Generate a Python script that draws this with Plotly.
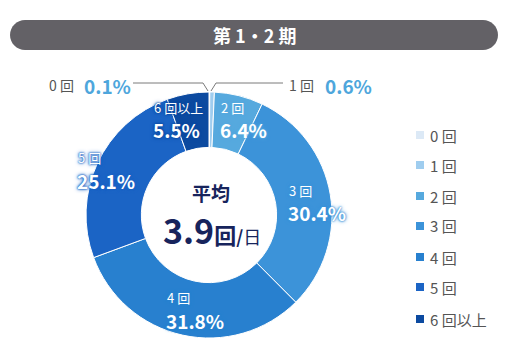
import plotly.graph_objects as go

# ---- data ----
categories = ["0 回", "1 回", "2 回", "3 回", "4 回", "5 回", "6 回以上"]
shares = [0.1, 0.6, 6.4, 30.4, 31.8, 25.1, 5.5]
pct_labels = ["0.1%", "0.6%", "6.4%", "30.4%", "31.8%", "25.1%", "5.5%"]
title_text = "第 1・2 期"
avg_label = "平均"
avg_value = "3.9"

# ---- style ----
colors = ["#dce9f6", "#9fcdef", "#56a9de", "#3c93d9", "#2880cf", "#1b64c5", "#0c4aa0"]
W, H = 510, 358
FONT = "Noto Sans CJK JP"
NAVY = "#17245c"

def px(x):
    return x / W

def py(y):
    return 1 - y / H

cx, cy, R = 209, 215, 123

fig = go.Figure()
fig.add_trace(go.Pie(
    labels=categories, values=shares, sort=False, direction="clockwise", rotation=0,
    hole=0.55, marker=dict(colors=colors, line=dict(color="white", width=1)),
    textinfo="none", hoverinfo="label+percent", showlegend=False,
    domain=dict(x=[px(cx - R), px(cx + R)], y=[py(cy + R), py(cy - R)]),
))

shapes = []
ann = []

def text(x, y, t, size, color, xanchor="left", shadow=None, bold=False):
    f = dict(family=FONT, size=size, color=color)
    if shadow:
        f["shadow"] = shadow
    ann.append(dict(x=px(x), y=py(y), xref="paper", yref="paper", xanchor=xanchor,
                    yanchor="middle", text=f"<b>{t}</b>" if bold else t,
                    showarrow=False, font=f))

# title bar (rounded pill)
x0, x1, y0, y1 = 10, 498, 20, 50
r = (y1 - y0) / 2
k = 0.5523 * r
path = (f"M {px(x0 + r)},{py(y0)} L {px(x1 - r)},{py(y0)} "
        f"C {px(x1 - r + k)},{py(y0)} {px(x1)},{py(y0 + r - k)} {px(x1)},{py(y0 + r)} "
        f"C {px(x1)},{py(y0 + r + k)} {px(x1 - r + k)},{py(y1)} {px(x1 - r)},{py(y1)} "
        f"L {px(x0 + r)},{py(y1)} "
        f"C {px(x0 + r - k)},{py(y1)} {px(x0)},{py(y0 + r + k)} {px(x0)},{py(y0 + r)} "
        f"C {px(x0)},{py(y0 + r - k)} {px(x0 + r - k)},{py(y0)} {px(x0 + r)},{py(y0)} Z")
shapes.append(dict(type="path", path=path, xref="paper", yref="paper",
                   fillcolor="#636166", line=dict(width=0), layer="below"))
text(254, 35, title_text, 18, "white", xanchor="center", bold=True)

# leader lines for tiny slices
shapes.append(dict(type="path", xref="paper", yref="paper",
                   path=f"M {px(133)},{py(83)} L {px(203)},{py(83)} L {px(208)},{py(91)}",
                   line=dict(color="#7a7a7a", width=1)))
shapes.append(dict(type="path", xref="paper", yref="paper",
                   path=f"M {px(211)},{py(91)} L {px(216)},{py(83)} L {px(283)},{py(83)}",
                   line=dict(color="#7a7a7a", width=1)))

# outside labels
outside = {0: (47, 82), 1: (287, 323)}
for i, (xl, xp) in outside.items():
    text(xl, 85, categories[i], 14, "#555555")
    text(xp, 85, pct_labels[i], 19, "#4ea6dc", bold=True)

# inside labels (left-aligned positions)
inside = {2: (219, 107, 129), 3: (287, 190, 213), 4: (165, 297, 320),
          5: (76, 157, 180), 6: (152, 107, 129)}
for i, (xl, yc, yp) in inside.items():
    c = colors[i]
    sh = f"0 0 2px {c}, 0 0 2px {c}, 0 0 4px {c}"
    text(xl, yc, categories[i], 13, "white", shadow=sh)
    text(xl - 1, yp, pct_labels[i], 19, "white", shadow=sh, bold=True)

# centre text
text(211, 192, avg_label, 19, NAVY, xanchor="center", bold=True)
ann.append(dict(x=px(212), y=py(229), xref="paper", yref="paper", xanchor="center",
                yanchor="middle",
                text=(f"<b>{avg_value}</b><span style='font-size:22px'><b>回</b></span>"
                      f"<span style='font-size:18px'><b>/</b>日</span>"),
                showarrow=False, font=dict(family=FONT, size=34, color=NAVY)))

# custom legend
leg_y = [135, 165, 196, 226, 257, 287, 319]
for i, cat in enumerate(categories):
    yc = leg_y[i]
    shapes.append(dict(type="rect", xref="paper", yref="paper",
                       x0=px(416), x1=px(424), y0=py(yc + 4), y1=py(yc - 4),
                       fillcolor=colors[i], line=dict(width=0)))
    text(428, yc, cat, 15, "#555555")

fig.update_layout(
    width=W, height=H, margin=dict(l=0, r=0, t=0, b=0),
    paper_bgcolor="white", plot_bgcolor="white",
    shapes=shapes, annotations=ann, showlegend=False,
)
fig.write_html("out.html", config={"displayModeBar": False},
               post_script="document.body.style.margin='0';")
